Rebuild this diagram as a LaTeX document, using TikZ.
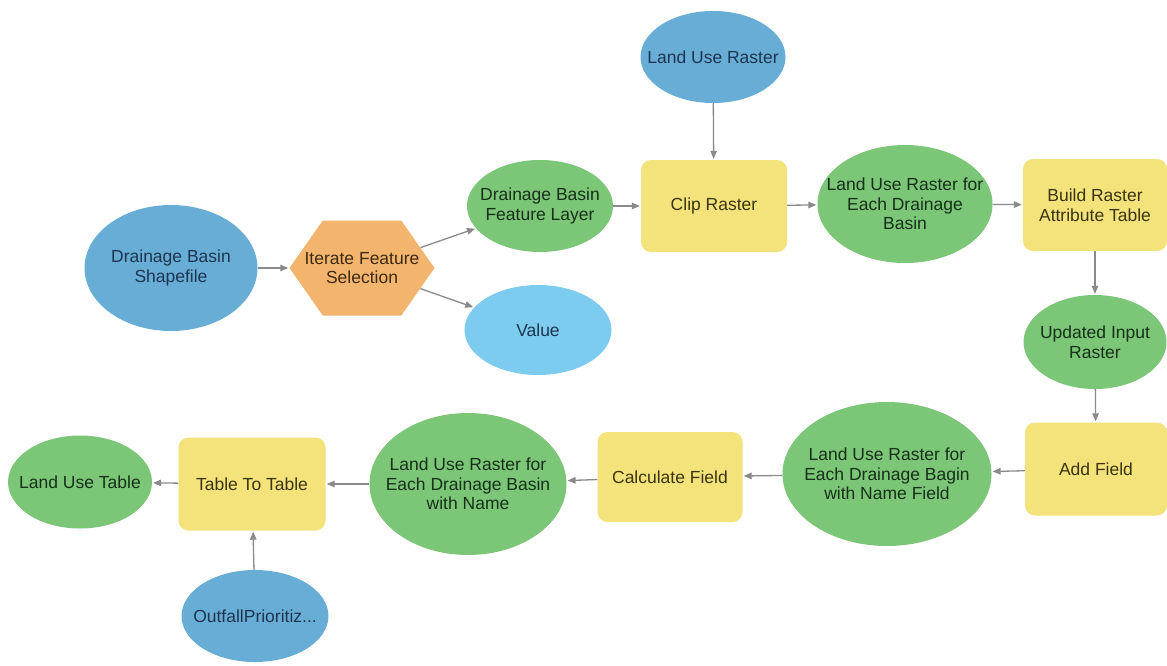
\documentclass[tikz,border=0pt]{standalone}
\usepackage{fontspec}
\setmainfont{Liberation Sans}
\usetikzlibrary{shapes.geometric,shapes.symbols,arrows.meta}
\definecolor{cblue}{HTML}{68ADD5}
\definecolor{cvalue}{HTML}{7ECBF0}
\definecolor{cgreen}{HTML}{7CC677}
\definecolor{cyellow}{HTML}{F4E27B}
\definecolor{corange}{HTML}{F3B56E}
\definecolor{cgray}{HTML}{8A8A8A}
\definecolor{tblue}{HTML}{1D3550}
\definecolor{tgreen}{HTML}{16301A}
\definecolor{tyellow}{HTML}{3A3510}
\definecolor{torange}{HTML}{3E2A10}
\begin{document}
\begin{tikzpicture}[x=1pt,y=-1pt,
  every node/.style={font=\fontsize{17.5}{19.5}\selectfont, align=center, inner sep=0pt},
  bluedata/.style={ellipse, fill=cblue, label={[text=tblue]center:#1}},
  valuedata/.style={ellipse, fill=cvalue, label={[text=tblue]center:#1}},
  greendata/.style={ellipse, fill=cgreen, label={[text=tgreen]center:#1}},
  tool/.style={rectangle, rounded corners=10pt, fill=cyellow, label={[text=tyellow]center:#1}},
  iterbox/.style={shape=signal, signal to=east and west, signal pointer angle=110, fill=corange, label={[text=torange]center:#1}},
  arr/.style={draw=cgray, line width=1.3pt, -{Triangle[length=8pt,width=6.5pt]}, shorten >=1pt}]
\useasboundingbox (0,0) rectangle (1167,665);
\fill[white] (0,0) rectangle (1167,665);

\node[bluedata={Drainage Basin\\Shapefile}, minimum width=173pt, minimum height=126pt] (dbs) at (171,268) {};
\node[iterbox={Iterate Feature\\Selection}, minimum width=145pt, minimum height=95pt] (ifs) at (362,268) {};
\node[greendata={Drainage Basin\\Feature Layer}, minimum width=146pt, minimum height=92pt] (dbfl) at (540,206) {};
\node[valuedata={Value}, minimum width=147pt, minimum height=90pt] (val) at (538,330) {};
\node[bluedata={Land Use Raster}, minimum width=145pt, minimum height=92pt] (lur) at (713,57) {};
\node[tool={Clip Raster}, minimum width=146pt, minimum height=92pt] (clip) at (714,206) {};
\node[greendata={Land Use Raster for\\Each Drainage\\Basin}, minimum width=175pt, minimum height=118pt] (lure) at (905,204) {};
\node[tool={Build Raster\\Attribute Table}, minimum width=144pt, minimum height=92pt] (brat) at (1095,205) {};
\node[greendata={Updated Input\\Raster}, minimum width=143pt, minimum height=94pt] (uir) at (1095,342) {};
\node[tool={Add Field}, minimum width=142pt, minimum height=93pt] (af) at (1096,469) {};
\node[greendata={Land Use Raster for\\Each Drainage Bagin\\with Name Field}, minimum width=209pt, minimum height=144pt] (lurnf) at (887,474) {};
\node[tool={Calculate Field}, minimum width=145pt, minimum height=90pt] (cf) at (670,477) {};
\node[greendata={Land Use Raster for\\Each Drainage Basin\\with Name}, minimum width=197pt, minimum height=142pt] (lurn) at (468,484) {};
\node[tool={Table To Table}, minimum width=147pt, minimum height=93pt] (ttt) at (252,484) {};
\node[greendata={Land Use Table}, minimum width=144pt, minimum height=93pt] (lut) at (80,482) {};
\node[bluedata={OutfallPrioritiz...}, minimum width=147pt, minimum height=92pt] (ofp) at (255,616) {};

\draw[arr] (dbs) -- (ifs);
\draw[arr] (ifs) -- (dbfl);
\draw[arr] (ifs) -- (val);
\draw[arr] (dbfl) -- (clip);
\draw[arr] (lur) -- (clip);
\draw[arr] (clip) -- (lure);
\draw[arr] (lure) -- (brat);
\draw[arr] (brat) -- (uir);
\draw[arr] (uir) -- (af);
\draw[arr] (af) -- (lurnf);
\draw[arr] (lurnf) -- (cf);
\draw[arr] (cf) -- (lurn);
\draw[arr] (lurn) -- (ttt);
\draw[arr] (ofp) -- (ttt);
\draw[arr] (ttt) -- (lut);
\end{tikzpicture}
\end{document}
